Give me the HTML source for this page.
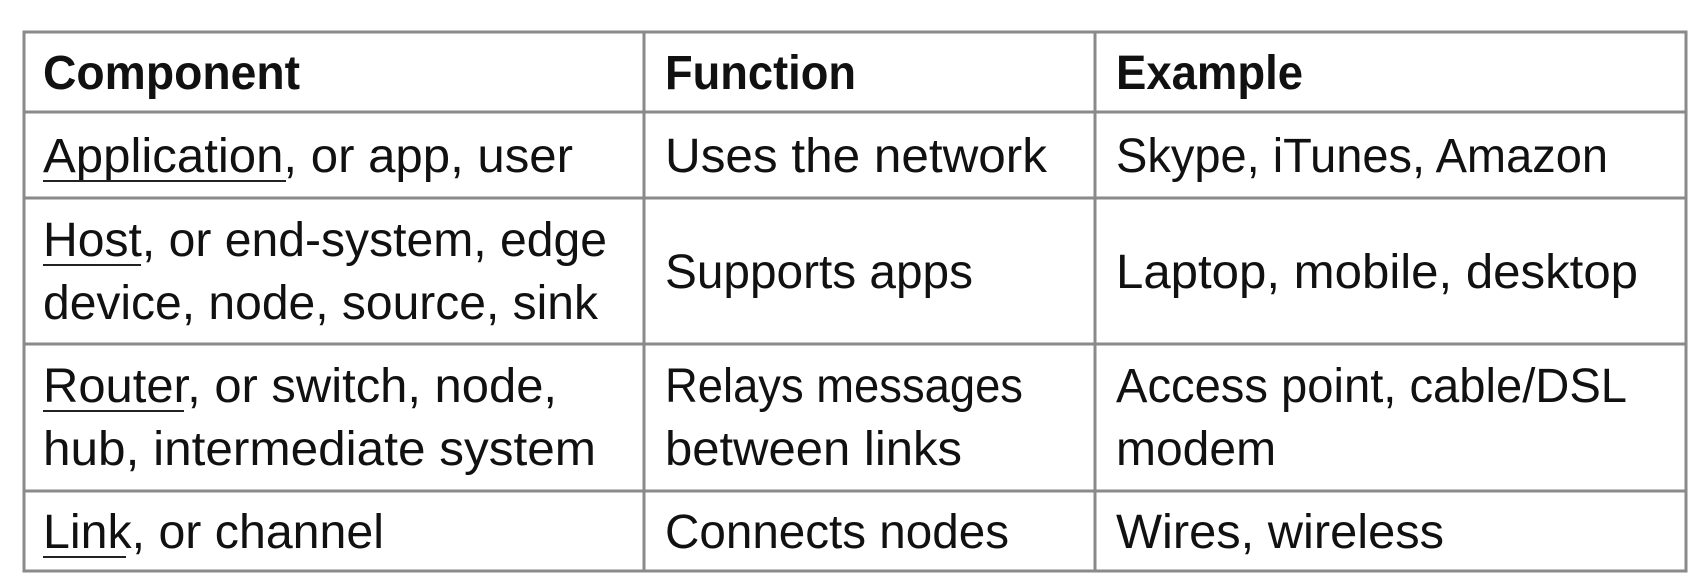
<!DOCTYPE html>
<html><head><meta charset="utf-8"><style>
html,body{margin:0;padding:0;background:#fff;}
svg{display:block}
text{font-family:"Liberation Sans",sans-serif;font-size:48px;fill:#111;}
.b{font-weight:bold}
</style></head><body>
<svg width="1695" height="584" viewBox="0 0 1695 584" xmlns="http://www.w3.org/2000/svg">
<rect x="0" y="0" width="1695" height="584" fill="#fff"/>
<g stroke="#8a8a8a" stroke-width="3" fill="none">
<rect x="24" y="32" width="1662" height="539"/>
<line x1="24" y1="112" x2="1686" y2="112"/>
<line x1="24" y1="198" x2="1686" y2="198"/>
<line x1="24" y1="344" x2="1686" y2="344"/>
<line x1="24" y1="491" x2="1686" y2="491"/>
<line x1="644" y1="32" x2="644" y2="571"/>
<line x1="1095" y1="32" x2="1095" y2="571"/>
</g>
<text class="b" x="43" y="89" textLength="257" lengthAdjust="spacingAndGlyphs">Component</text>
<text class="b" x="665" y="89" textLength="191" lengthAdjust="spacingAndGlyphs">Function</text>
<text class="b" x="1116" y="89" textLength="187" lengthAdjust="spacingAndGlyphs">Example</text>

<text x="43" y="172" textLength="530" lengthAdjust="spacingAndGlyphs">Application, or app, user</text>
<text x="665" y="172" textLength="382" lengthAdjust="spacingAndGlyphs">Uses the network</text>
<text x="1116" y="172" textLength="492" lengthAdjust="spacingAndGlyphs">Skype, iTunes, Amazon</text>

<text x="43" y="256" textLength="564" lengthAdjust="spacingAndGlyphs">Host, or end-system, edge</text>
<text x="43" y="319" textLength="555" lengthAdjust="spacingAndGlyphs">device, node, source, sink</text>
<text x="665" y="288" textLength="308" lengthAdjust="spacingAndGlyphs">Supports apps</text>
<text x="1116" y="288" textLength="522" lengthAdjust="spacingAndGlyphs">Laptop, mobile, desktop</text>

<text x="43" y="402" textLength="514" lengthAdjust="spacingAndGlyphs">Router, or switch, node,</text>
<text x="43" y="465" textLength="553" lengthAdjust="spacingAndGlyphs">hub, intermediate system</text>
<text x="665" y="402" textLength="358" lengthAdjust="spacingAndGlyphs">Relays messages</text>
<text x="665" y="465" textLength="297" lengthAdjust="spacingAndGlyphs">between links</text>
<text x="1116" y="402" textLength="511" lengthAdjust="spacingAndGlyphs">Access point, cable/DSL</text>
<text x="1116" y="465">modem</text>

<text x="43" y="548" textLength="341" lengthAdjust="spacingAndGlyphs">Link, or channel</text>
<text x="665" y="548" textLength="344" lengthAdjust="spacingAndGlyphs">Connects nodes</text>
<text x="1116" y="548" textLength="328" lengthAdjust="spacingAndGlyphs">Wires, wireless</text>

<g stroke="#222" stroke-width="2">
<line x1="43" y1="181" x2="286" y2="181"/>
<line x1="43" y1="265" x2="141" y2="265"/>
<line x1="43" y1="411" x2="184" y2="411"/>
<line x1="43" y1="557" x2="126" y2="557"/>
</g>
</svg>
</body></html>
